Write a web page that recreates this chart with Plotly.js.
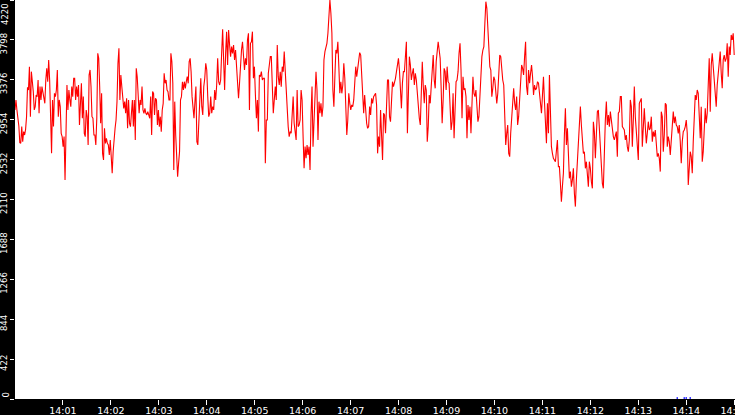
<!DOCTYPE html>
<html>
<head>
<meta charset="utf-8">
<script src="https://cdn.plot.ly/plotly-3.0.1.min.js"></script>
<style>html,body{margin:0;padding:0;background:#000;}#chart{width:735px;height:415px;}</style>
</head>
<body>
<div id="chart"></div>
<script>
const seg1 = [3057,3163,3057,2969,2888,2711,2704,2881,2722,2828,
2792,2852,2986,3296,3268,3515,2986,3462,3356,3251,
3057,3092,3215,3198,3374,3022,3304,3163,3304,3233,
3198,3127,3374,3497,3356,3586,3374,2986,2598,3163,
2881,3233,3198,3268,3480,2986,3163,3092,2810,2775,
2669,2775,2317,2810,3321,3057,3268,3163,3092,3304,
3198,3392,3392,3163,3304,3198,3321,2898,3163,3339,
2969,3198,2810,2775,3057,2986,2687,3427,3480,3304,
2986,2969,2792,2792,2687,2969,3656,3603,3304,2916,
3233,2598,2528,2863,2704,2757,2704,2687,2581,2740,
2563,2387,2616,2810,2863,2951,3145,3550,3709,3163,
3427,3304,3163,3074,3145,3022,3180,2863,3163,2916,
2881,3022,3163,2881,3163,2740,3497,3409,3268,3022,
3163,3110,3304,3057,3022,3074,3022,3004,3039,2986,
2969,3198,2792,3251,3233,3004,3180,3163,2898,3057,
2881,2986,2828,3057,3127,3445,3339,3374,3268,3251,
3163,3163,3656,3568,3339,2422,3145,2792,2598,2352,
2493,2616,3163,3198,3356,3268,3356,3286,3356,3409,
3339,3568,3603,3462,3198,3057,2969,3145,3304,2722,
2687,2916];
const seg2 = [3275,3392,3092,3004,3304,3392,3550,3480,3198,2986,
3022,3198,3022,3092,3057,3268,3163,3321,3603,3356,
3321,3374,3656,3910,3586,3268,3656,3885,3533,3903,
3744,3621,3727,3656,3744,3586,3691,3550,3356,3180,
3339,3550,3691,3779,3586,3480,3603,3533,3797,3868,
3057,3762,3779,3885,3392,3515,3215,2969,3163,2828,
3427,3409,3462,3374,3392,3392,2493,2951,2951,3445,
3533,3621,3621,3233,3022,3163,3304,3163,3744,3409,
3321,3462,3304,3515,3462,3674,3462,3356,3145,2881,
2775,2828,2810,3057,3198,2916,2828,2740,3268,2881,
2898,2951,3268,3163,2775,2440,2669,2546,2687,2581,
2669,2422,3004,3304,2669,2969,3180,3462,3268,2740,
3145,3022,3127,2986,3092,3586,3674,3709,3762,3868,
4114,4220,4079,3868,3268,3092,3409,3691,3656,3779,
3515,3233,3356,3233,3321,3550,3392,3127,2792,2951,
3233,3127,3057,3110,3092,3163,3356,3515,3409,3480,
3603,3663,3638,3409,3092,3022,3215,3004,2916,2863,
2881,3092,3004,3180,3127,3198];
const seg3 = [3233,3110,2598,2775,2669,3057,2740,2528,3022,3004,
2810,3198,3374,3374,2986,2933,3198,3356,3304,3339,
3392,3462,3550,3603,3480,3198,3074,3339,3462,3462,
3621,3779,2810,3286,3621,3533,3374,3445,3497,3321,
3445,3374,3215,3074,2969,2898,3409,3568,3304,3127,
3321,3268,2722,2881,3215,3127,3304,3462,3638,3374,
3286,3568,3674,3779,3691,3603,3286,2916,3163,3497,
3462,3268,3515,3356,3339,2969,2845,2933,3233,2757,
3215,3356,3374,3462,3656,3762,3480,2969,3409,3268,
3286,3198,2757,3110,2951,3092,2810,3110,3409,3233,
3198,3268,3092,2933,2986,3215,3445,3621,3691,3727,
3973,4202,4132,3920,3762,3515,3480,3198,3286,3409,
3374,3251,3127,3233,3462,3638,3621,3445,3374,3321,
2986,2687,2810,2898,2598,2563,2810,3004,3163,3286,
3127,3057,3198,2898,2986,3198,3392,3533,3497,3427,
3621,3779,3304,3215,3480,3339,3445,3533,3409,3215,
3321,3268,3286,3356,3339,3233,3057,3022,3215,3409,
3145,2810,2704,3127,2810,3427,2845,2669,2598,2546];
const seg4 = [2510,2598,2740,2458,2458,2281,2087,2246,2387,2792,
3074,2687,2863,2598,2334,2405,2246,2317,2440,2176,
2035,2317,2510,2687,2898,3092,2898,2669,2598,2616,
2440,2510,2317,2246,2510,2440,2299,2228,2933,2828,
2546,2775,3039,3057,2863,2740,2422,2281,2228,2669,
2951,3145,2898,3004,2881,3039,2951,2828,2775,2740,
2810,2828,2563,3022,3039,3198,3198,2881,2863,2845,
2740,2792,2669,2616,2740,3163,3092,2669,2951,3304,
2986,2792,2740,2528,3127,3163,3180,2669,2916,3074,
2881,2704,2810,2933,2845,2863,2986,2722,2828,2775,
2845,2740,2563,2598,2546,2405,3039,2986,2616,2792,
3127,3110,2669,2775,2722,2581,2775,2951,3039,2916,
2986,2898,2881,2810,2898,2722,2493,2722,2828,2845,
2881,2951,2810,2264,2440,2616,2563,2387,2722,2969,
3215,3163,3268,3233,3022,2757,3092,2510,2616,2810,
3074,2916,3022,3321,3603,3039,3533,3656,3515,3374,
3251,3092,3321,3427,3568,3674,3445,3286,3586,3638,
3568,3603,3762,3409,3727,3638,3850,3797,3868,3638];
// time window of each segment, seconds after 14:00:00
const segWindows = [[0, 230], [231.25, 448.75], [451.25, 673.75], [676.25, 900]];
// small blue series near zero
const blueSec = [828.75, 837.5, 840, 845];
const blueVals = [10, 10, 10, 10];
const yTicks = [0, 422, 844, 1266, 1688, 2110, 2532, 2954, 3376, 3798, 4220];
const xTickLabels = ['14:01','14:02','14:03','14:04','14:05','14:06','14:07','14:08','14:09','14:10','14:11','14:12','14:13','14:14','14:15'];

const base = Date.UTC(2024, 0, 1, 14, 0, 0);
const xs = [], ys = [];
[seg1, seg2, seg3, seg4].forEach((seg, i) => {
  const [a, b] = segWindows[i];
  seg.forEach((v, j) => {
    xs.push(base + 1000 * (a + (b - a) * j / (seg.length - 1)));
    ys.push(v);
  });
});
const xTickVals = xTickLabels.map((s, i) => base + (i + 1) * 60000);

const traces = [
  {x: xs, y: ys, type: 'scatter', mode: 'lines', line: {color: '#ff0000', width: 1.1}, hoverinfo: 'none'},
  {x: blueSec.map(s => base + s * 1000), y: blueVals, type: 'scatter', mode: 'markers',
   marker: {color: '#0000ff', size: 1.5, symbol: 'square'}, hoverinfo: 'none', cliponaxis: false}
];
const font = 'DejaVu Sans, Verdana, sans-serif';
const yFont = {color: '#ffffff', size: 8.5, family: font};
const lastY = yTicks.length - 1;
// the end labels are kept inside the picture, as in the reference
const yTickText = yTicks.map((v, i) => (i === 0 || i === lastY) ? '' : String(v));
const annotations = [
  {xref: 'paper', x: 0, xanchor: 'right', xshift: -4, yref: 'y', y: yTicks[lastY], yanchor: 'top', yshift: -2,
   text: String(yTicks[lastY]), textangle: -90, showarrow: false, font: yFont, borderpad: 0},
  {xref: 'paper', x: 0, xanchor: 'right', xshift: -4, yref: 'y', y: yTicks[0], yanchor: 'bottom', yshift: 0,
   text: String(yTicks[0]), textangle: -90, showarrow: false, font: yFont, borderpad: 0}
];
const layout = {
  width: 735, height: 415,
  margin: {l: 15, r: 0, t: 0, b: 16, pad: 0},
  paper_bgcolor: '#000000', plot_bgcolor: '#ffffff',
  showlegend: false,
  annotations: annotations,
  xaxis: {
    type: 'date', range: [base, base + 901000],
    tickmode: 'array', tickvals: xTickVals, ticktext: xTickLabels,
    ticks: 'outside', ticklen: 5, tickwidth: 1, tickcolor: '#ffffff',
    ticklabelstandoff: -2, ticklabeloverflow: 'allow',
    tickfont: {color: '#ffffff', size: 9.5, family: font},
    showgrid: false, zeroline: false, showline: false, fixedrange: true
  },
  yaxis: {
    range: [0, 4220], tickmode: 'array', tickvals: yTicks, ticktext: yTickText,
    ticks: 'outside', ticklen: 4, tickwidth: 1, tickcolor: '#ffffff', tickangle: -90,
    ticklabelshift: 5, ticklabeloverflow: 'allow',
    tickfont: yFont,
    showgrid: false, zeroline: false, showline: false, fixedrange: true
  }
};
Plotly.newPlot('chart', traces, layout, {staticPlot: true, displayModeBar: false});
</script>
</body>
</html>
